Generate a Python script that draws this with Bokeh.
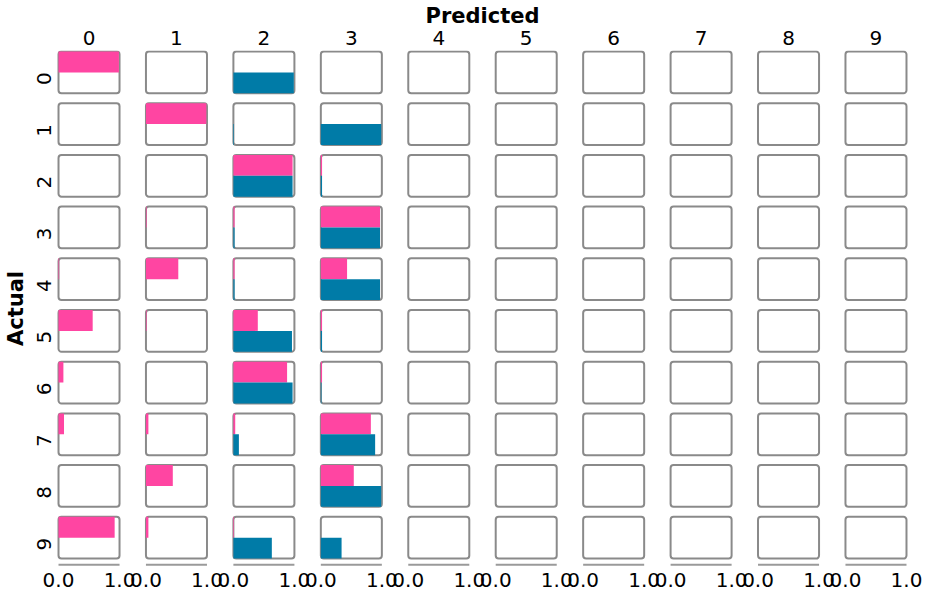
import math
from bokeh.plotting import figure
from bokeh.models import Range1d, LinearAxis, FixedTicker, ColumnDataSource
from bokeh.embed import file_html
from bokeh.resources import INLINE

# ---- data ----
classes = ["0", "1", "2", "3", "4", "5", "6", "7", "8", "9"]
scale_labels = ["0.0", "1.0"]

# pink (upper) bar per actual row / predicted column
pink_values = [
    [0.99, 0.00, 0.00, 0.00, 0, 0, 0, 0, 0, 0],
    [0.00, 0.99, 0.00, 0.00, 0, 0, 0, 0, 0, 0],
    [0.00, 0.00, 0.97, 0.02, 0, 0, 0, 0, 0, 0],
    [0.00, 0.01, 0.02, 0.97, 0, 0, 0, 0, 0, 0],
    [0.01, 0.53, 0.02, 0.43, 0, 0, 0, 0, 0, 0],
    [0.56, 0.01, 0.40, 0.02, 0, 0, 0, 0, 0, 0],
    [0.08, 0.00, 0.88, 0.02, 0, 0, 0, 0, 0, 0],
    [0.09, 0.04, 0.03, 0.82, 0, 0, 0, 0, 0, 0],
    [0.00, 0.44, 0.00, 0.54, 0, 0, 0, 0, 0, 0],
    [0.92, 0.04, 0.01, 0.00, 0, 0, 0, 0, 0, 0],
]
# blue (lower) bar per actual row / predicted column
blue_values = [
    [0.00, 0.00, 0.99, 0.00, 0, 0, 0, 0, 0, 0],
    [0.00, 0.00, 0.01, 0.99, 0, 0, 0, 0, 0, 0],
    [0.00, 0.00, 0.97, 0.02, 0, 0, 0, 0, 0, 0],
    [0.00, 0.00, 0.02, 0.97, 0, 0, 0, 0, 0, 0],
    [0.00, 0.00, 0.02, 0.97, 0, 0, 0, 0, 0, 0],
    [0.00, 0.00, 0.96, 0.02, 0, 0, 0, 0, 0, 0],
    [0.00, 0.00, 0.97, 0.01, 0, 0, 0, 0, 0, 0],
    [0.00, 0.00, 0.09, 0.89, 0, 0, 0, 0, 0, 0],
    [0.00, 0.00, 0.00, 0.99, 0, 0, 0, 0, 0, 0],
    [0.00, 0.00, 0.63, 0.34, 0, 0, 0, 0, 0, 0],
]

PINK = "#ff45a2"
BLUE = "#007ba7"
BOX = "#8a8a8a"
FONT = "DejaVu Sans"

# ---- layout (panel width = 1 x-unit, panel height = 1 y-unit) ----
SX = 1.433   # column pitch
SY = 1.238   # row pitch
n = len(classes)
x_end = (n - 1) * SX + 1
y_rows_end = (n - 1) * SY + 1
y_line = y_rows_end + 0.15

p = figure(width=930, height=590, output_backend="svg", toolbar_location=None,
           x_range=Range1d(-0.033, x_end + 0.033),
           y_range=Range1d(y_rows_end + 0.19, -0.024),
           min_border_left=56, min_border_right=22,
           min_border_top=50, min_border_bottom=24,
           x_axis_location=None, y_axis_location=None)
p.xgrid.visible = False
p.ygrid.visible = False
p.outline_line_color = None
p.background_fill_color = "white"
p.border_fill_color = "white"

# panel boxes
bl, br, bt, bb = [], [], [], []
for r in range(n):
    for c in range(n):
        bl.append(c * SX); br.append(c * SX + 1)
        bt.append(r * SY); bb.append(r * SY + 1)
p.quad(left=bl, right=br, top=bt, bottom=bb, fill_color="white",
       line_color=BOX, line_width=2, line_join="round", border_radius=3)

# bars
def bars(values, offset):
    L, R, T, B = [], [], [], []
    for r, row in enumerate(values):
        for c, v in enumerate(row):
            if v > 0:
                L.append(c * SX); R.append(c * SX + v)
                T.append(r * SY + offset); B.append(r * SY + offset + 0.5)
    return ColumnDataSource(dict(left=L, right=R, top=T, bottom=B))

p.quad(left="left", right="right", top="top", bottom="bottom",
       source=bars(pink_values, 0.0), fill_color=PINK, line_color=None)
p.quad(left="left", right="right", top="top", bottom="bottom",
       source=bars(blue_values, 0.5), fill_color=BLUE, line_color=None)

# bottom scale lines
p.segment(x0=[c * SX for c in range(n)], x1=[c * SX + 1 for c in range(n)],
          y0=[y_line] * n, y1=[y_line] * n, line_color="#9a9a9a", line_width=2)

def style(ax, label=None, standoff=0):
    ax.axis_line_color = None
    ax.major_tick_line_color = None
    ax.minor_tick_line_color = None
    ax.major_label_text_font = FONT
    ax.major_label_text_font_size = "20px"
    ax.major_label_text_color = "black"
    ax.major_label_standoff = standoff
    if label:
        ax.axis_label = label
        ax.axis_label_text_font = FONT
        ax.axis_label_text_font_size = "21px"
        ax.axis_label_text_font_style = "bold"
        ax.axis_label_text_color = "black"
        ax.axis_label_standoff = 0

# top axis: predicted classes
top_ticks = [round(c * SX + 0.5, 6) for c in range(n)]
ax_top = LinearAxis(ticker=FixedTicker(ticks=top_ticks),
                    major_label_overrides={t: classes[i] for i, t in enumerate(top_ticks)})
style(ax_top, "Predicted")
p.add_layout(ax_top, "above")

# left axis: actual classes
left_ticks = [round(r * SY + 0.5, 6) for r in range(n)]
ax_left = LinearAxis(ticker=FixedTicker(ticks=left_ticks),
                     major_label_overrides={t: classes[i] for i, t in enumerate(left_ticks)},
                     major_label_orientation=math.pi / 2)
style(ax_left, "Actual", standoff=6)
p.add_layout(ax_left, "left")

# bottom axis: 0.0 / 1.0 per column
bot_ticks, bot_over = [], {}
for c in range(n):
    for k, lab in enumerate(scale_labels):
        t = round(c * SX + k, 6)
        bot_ticks.append(t)
        bot_over[t] = lab
ax_bot = LinearAxis(ticker=FixedTicker(ticks=bot_ticks), major_label_overrides=bot_over)
style(ax_bot)
p.add_layout(ax_bot, "below")

open("out.html", "w").write(file_html(p, INLINE))
